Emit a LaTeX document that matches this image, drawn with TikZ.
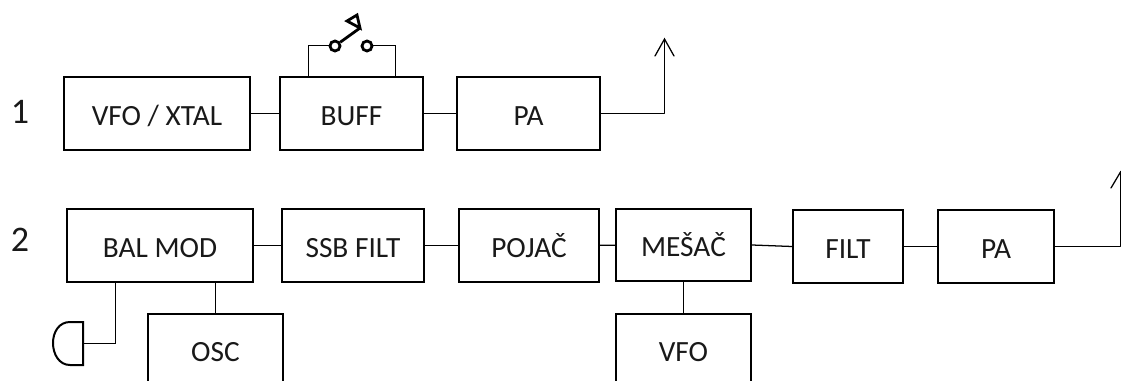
\documentclass[tikz,border=0pt]{standalone}
\usepackage{fontspec}
\setmainfont{Carlito}
\usetikzlibrary{calc}
\tikzset{
  x=0.75pt,y=-0.75pt,
  blk/.style={draw=black,line width=1.7pt,fill=white,inner sep=0pt,minimum width=#1*0.75pt,font=\fontsize{22pt}{26pt}\selectfont,text=black!90,text height=18pt,text depth=0.2pt},
  blk/.default=100,
  hA/.style={minimum height=54.5pt},
  wire/.style={draw=black,line width=0.95pt},
  thick line/.style={draw=black,line width=2.1pt},
  num/.style={inner sep=0pt,font=\fontsize{27pt}{32pt}\selectfont,text=black!90}
}
\begin{document}
\begin{tikzpicture}
\useasboundingbox (0,0) rectangle (1121,381);
\clip (0,0) rectangle (1121,381);
% row 1
\node[blk=186,hA] (vfox) at (157,113.5) {VFO / XTAL};
\node[blk=143,hA] (buff) at (351.5,113.5) {BUFF};
\node[blk=143,hA] (pa1) at (528.5,113.5) {PA};
% row 2
\node[blk=186,hA] (bal) at (160,245.5) {BAL MOD};
\node[blk=142,hA] (ssb) at (353,245.5) {SSB FILT};
\node[blk=140,hA] (poj) at (529,245.5) {POJAČ};
\node[blk=135,hA] (mes) at (683.5,245) {MEŠAČ};
\node[blk=110,hA] (filt) at (848,246.5) {FILT};
\node[blk=116,hA] (pa2) at (996,246.5) {PA};
\node[blk=135,hA] (osc) at (215.5,350) {OSC};
\node[blk=135,hA] (vfo) at (683.5,350) {VFO};
\node[num] (n1) at (20,111.5) {1};
\node[num] (n2) at (20,240) {2};
% connectors
\draw[wire] (vfox) -- (buff);
\draw[wire] (buff) -- (pa1);
\draw[wire] (bal) -- (ssb);
\draw[wire] (ssb) -- (poj);
\draw[wire] (poj) -- (mes);
\draw[wire] (mes.east) -- (filt.west);
\draw[wire] (filt) -- (pa2);
\draw[wire] (mes) -- (vfo);
\draw[wire] (bal.south -| osc.north) -- (osc.north);
% output arrows
\coordinate (tip1) at (664.5,39);
\coordinate (tip2) at (1120.5,172);
\draw[wire,line join=round] (pa1.east) -- (tip1 |- pa1.east) -- (tip1);
\draw[wire,line cap=round] (655,56) -- (tip1) -- (674,56);
\draw[wire,line join=round] (pa2.east) -- (tip2 |- pa2.east) -- (tip2);
\draw[wire,line cap=round] (1111,188) -- (tip2) -- (1129,188);
% switch
\node[circle,draw=black,line width=2.1pt,minimum size=7.5pt,inner sep=0pt] (sa) at (335,46) {};
\node[circle,draw=black,line width=2.1pt,minimum size=7.5pt,inner sep=0pt] (sb) at (367,46) {};
\coordinate (swl) at (308.5,45.5);
\coordinate (swr) at (395.5,45.5);
\draw[wire] (swl |- buff.north) -- (swl) -- (sa.west |- swl);
\draw[wire] (swr |- buff.north) -- (swr) -- (sb.east |- swr);
\draw[thick line] (sa) -- (360,28);
\draw[thick line,line join=miter] (360,28) -- (347,21) -- (357,15) -- cycle;
% microphone
\coordinate (mic) at (83,343.5);
\draw[wire] (bal.south -| 115.5,0) -- (115.5,343.5) -- (mic);
\draw[thick line,line width=1.5pt] (83,322) -- (70,322) .. controls (59,322) and (53,332) .. (53,343) .. controls (53,354) and (59,365) .. (70,365) -- (83,365) -- cycle;
\end{tikzpicture}
\end{document}
